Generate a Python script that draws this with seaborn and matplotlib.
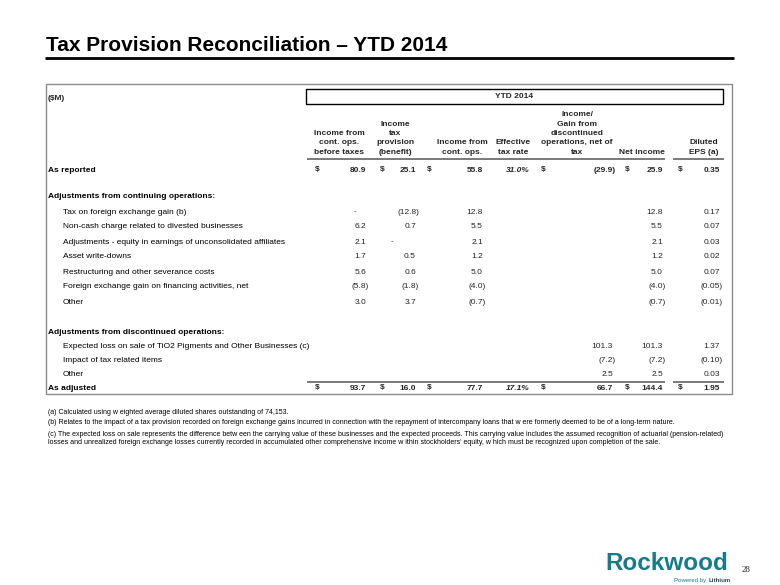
import matplotlib.pyplot as plt
import seaborn as sns
import pandas as pd

sns.set_theme(style="white")
plt.rcParams["font.family"] = ["Liberation Sans", "DejaVu Sans"]

# ---- data ----
title = "Tax Provision Reconciliation – YTD 2014"
unit_label = "($M)"
period_label = "YTD 2014"
col_headers = [
    "Income from\ncont. ops.\nbefore taxes",
    "Income\ntax\nprovision\n(benefit)",
    "Income from\ncont. ops.",
    "Effective\ntax rate",
    "Income/\nGain from\ndiscontinued\noperations, net of\ntax",
    "Net income",
    "Diluted\nEPS (a)",
]
col_decimals = [1, 1, 1, 1, 1, 1, 2]

reported = [80.9, 25.1, 55.8, 31.0, -29.9, 25.9, 0.35]
adjusted = [93.7, 16.0, 77.7, 17.1, 66.7, 144.4, 1.95]

cont_labels = [
    "Tax on foreign exchange gain (b)",
    "Non-cash charge related to divested businesses",
    "Adjustments - equity in earnings of unconsolidated affiliates",
    "Asset write-downs",
    "Restructuring and other severance costs",
    "Foreign exchange gain on financing activities, net",
    "Other",
]
cont_pretax = [0.0, 6.2, 2.1, 1.7, 5.6, -5.8, 3.0]
cont_tax = [-12.8, 0.7, 0.0, 0.5, 0.6, -1.8, 3.7]
cont_income = [12.8, 5.5, 2.1, 1.2, 5.0, -4.0, -0.7]
cont_net = [12.8, 5.5, 2.1, 1.2, 5.0, -4.0, -0.7]
cont_eps = [0.17, 0.07, 0.03, 0.02, 0.07, -0.05, -0.01]

disc_labels = [
    "Expected loss on sale of TiO2 Pigments and Other Businesses (c)",
    "Impact of tax related items",
    "Other",
]
disc_gain = [101.3, -7.2, 2.5]
disc_net = [101.3, -7.2, 2.5]
disc_eps = [1.37, -0.10, 0.03]

footnotes = [
    "(a) Calculated using w eighted average diluted shares outstanding of 74,153.",
    "(b) Relates to the impact of a tax provision recorded on foreign exchange gains incurred in connection with the repayment of intercompany loans that w ere formerly deemed to be of a long-term nature.",
    "(c) The expected loss on sale represents the difference betw een the carrying value of these businesses and the expected proceeds. This carrying value includes the assumed recognition of actuarial (pension-related)",
    "losses and unrealized foreign exchange losses currently recorded in accumulated other comprehensive income w ithin stockholders' equity, w hich must be recognized upon completion of the sale.",
]
page_number = "28"

# ---- build table rows ----
rows = [("As reported", "total", reported),
        ("Adjustments from continuing operations:", "section", None)]
for i, lab in enumerate(cont_labels):
    rows.append((lab, "item", [cont_pretax[i], cont_tax[i], cont_income[i], None,
                               None, cont_net[i], cont_eps[i]]))
rows.append(("Adjustments from discontinued operations:", "section", None))
for i, lab in enumerate(disc_labels):
    rows.append((lab, "item", [None, None, None, None, disc_gain[i], disc_net[i], disc_eps[i]]))
rows.append(("As adjusted", "total", adjusted))
table = pd.DataFrame(rows, columns=["label", "kind", "values"])

# ---- layout (pixels) ----
row_y = [170, 197, 212, 227, 242, 257, 272, 287, 302, 332, 346, 361, 375, 388]
col_right = [366, 416, 483, 530, 613, 663, 720]
col_center = [339, 395, 462, 513, 577, 642, 704]
dollar_x = [315, 380, 427, None, 541, 625, 678]
dash_x = [355, 392, 472, 520, 600, 650, 710]
paren_w = 3
fs = 6.0


def fmt(v, d, pct=False):
    if v is None:
        return ""
    if pct:
        return f"{v:.{d}f}%"
    if v == 0:
        return "-"
    if v < 0:
        return f"({abs(v):.{d}f})"
    return f"{v:.{d}f}"


fig = plt.figure(figsize=(7.8, 5.85), dpi=100)
ax = fig.add_axes([0, 0, 1, 1])
ax.set_xlim(0, 780)
ax.set_ylim(585, 0)
ax.axis("off")

# title
ax.text(46, 51, title, fontsize=15, fontweight="bold", va="baseline", ha="left", color="black")
ax.plot([45, 734], [58, 58], color="black", lw=2, solid_capstyle="butt")

# table frame
ax.add_patch(plt.Rectangle((46, 84), 686, 310, fill=False, ec="#8c8c8c", lw=1))
ax.add_patch(plt.Rectangle((306, 89), 417, 15, fill=False, ec="black", lw=1))
ax.text(514, 96.5, period_label, fontsize=fs, fontweight="bold", ha="center", va="center")
ax.text(48, 98, unit_label, fontsize=fs, fontweight="bold", ha="left", va="center")

# column headers
for j, h in enumerate(col_headers):
    ax.text(col_center[j], 156, h, fontsize=fs, fontweight="bold", ha="center", va="bottom",
            linespacing=1.5)
for y in (159, 382):
    ax.plot([307, 665], [y, y], color="#7a7a7a", lw=1.4, solid_capstyle="butt")
    ax.plot([673, 724], [y, y], color="#7a7a7a", lw=1.4, solid_capstyle="butt")

# rows
for (idx, r), y in zip(table.iterrows(), row_y):
    bold = r["kind"] in ("total", "section")
    x_lab = 63 if r["kind"] == "item" else 48
    ax.text(x_lab, y, r["label"], fontsize=fs, fontweight="bold" if bold else "normal",
            ha="left", va="center", color="black")
    if r["values"] is None:
        continue
    for j, v in enumerate(r["values"]):
        if v is None:
            continue
        pct = j == 3
        s = fmt(v, col_decimals[j], pct)
        style = "italic" if pct else "normal"
        if v == 0 and not pct:
            ax.text(dash_x[j], y, s, fontsize=fs, ha="center", va="center",
                    fontweight="bold" if bold else "normal")
            continue
        xr = col_right[j] + (paren_w if (v < 0 and not pct) else 0)
        ax.text(xr, y, s, fontsize=fs, ha="right", va="center", style=style,
                fontweight="bold" if bold else "normal")
        if r["kind"] == "total" and dollar_x[j] is not None:
            ax.text(dollar_x[j], y, "$", fontsize=fs, fontweight="bold", ha="left", va="center")

# footnotes
for t, y in zip(footnotes, [412, 423, 434, 443]):
    ax.text(48, y, t, fontsize=5.0, ha="left", va="center", color="black")

# logo and page number
ax.text(605, 570, "Rockwood", fontsize=17.5, fontweight="heavy", color="#167b8a",
        ha="left", va="baseline")
ax.text(709, 582, "Lithium", fontsize=4.4, fontweight="bold", color="#1f4e5a",
        ha="left", va="baseline")
ax.text(706, 582, "Powered by", fontsize=4.4, color="#167b8a", ha="right", va="baseline")
ax.text(742, 572, page_number, fontsize=6.5, family="Liberation Serif", ha="left", va="baseline")

fig.savefig("out.png", dpi=100, facecolor="white")
